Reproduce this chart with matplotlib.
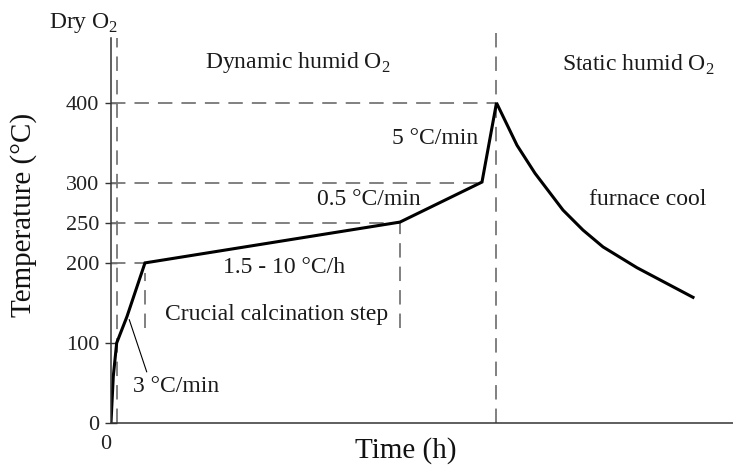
import matplotlib
matplotlib.use('Agg')
import matplotlib.pyplot as plt

plt.rcParams['font.family'] = ['Liberation Serif', 'DejaVu Serif']
plt.rcParams['mathtext.fontset'] = 'custom'
plt.rcParams['mathtext.rm'] = 'Liberation Serif'

# heating / cooling schedule (schematic)
time_h = [0, 0.23, 0.57, 1.6, 3.4, 28.9, 37.1, 38.55, 40.6, 42.4, 45.2, 47.2, 49.2, 52.6, 58.2]
temp_c = [0, 58, 100, 133, 200, 251, 301, 400, 347, 312, 266, 241, 220, 194, 157]

ytick_vals = [0, 100, 200, 250, 300, 400]
xtick_vals = [0]

t_dry_end = 0.6       # end of dry O2 stage
t_peak = 38.55        # end of dynamic humid O2 stage
t_step_start = 3.4
t_step_end = 28.9

fig = plt.figure(figsize=(7.33, 4.68), dpi=100)
ax = fig.add_axes([0.1514, 0.0962, 0.8486, 0.8226])
ax.set_xlim(0, 62.2)
ax.set_ylim(0, 481)

dash = dict(color='#767676', lw=1.3, dashes=(8, 5))

# guide lines from the axis to the set points
ax.plot([0, t_peak], [400, 400], **dash)
ax.plot([0, time_h[6]], [300, 300], **dash)
ax.plot([0, t_step_end], [250, 250], **dash)
ax.plot([0, t_step_start], [200, 200], **dash)

# stage boundaries
ax.plot([t_dry_end, t_dry_end], [0, 481], **dash)
ax.plot([t_peak, t_peak], [0, 487], clip_on=False, **dash)

# crucial step bracket
ax.plot([t_step_start, t_step_start], [119, 188], **dash)
ax.plot([t_step_end, t_step_end], [119, 251], **dash)

ax.plot(time_h, temp_c, color='black', lw=2.2, solid_joinstyle='miter')

# pointer for the first ramp
ax.plot([1.83, 3.57], [129, 64], color='black', lw=0.8)

ax.spines['top'].set_visible(False)
ax.spines['right'].set_visible(False)
for s in ['left', 'bottom']:
    ax.spines[s].set_color('#333333')
    ax.spines[s].set_linewidth(1.1)

ax.set_yticks(ytick_vals)
ax.set_xticks(xtick_vals)
ax.tick_params(axis='y', direction='inout', length=9, width=1.0, color='#333333',
               labelsize=16, pad=4, labelcolor='#222222')
ax.tick_params(axis='x', length=0, labelsize=16, pad=9, labelcolor='#222222')
for lab in ax.get_xticklabels():
    lab.set_horizontalalignment('right')

ax.set_xlabel('Time (h)', fontsize=21, color='#111111')
ax.xaxis.set_label_coords(0.474, -0.036)
ax.set_ylabel('Temperature (°C)', fontsize=21, color='#111111')
ax.yaxis.label.set_verticalalignment('center')
ax.yaxis.set_label_coords(-0.140, 0.54)

fs = 17
tc = '#1a1a1a'
o2 = r'O$_\mathrm{2}$'
ax.text(-2.7, 500, 'Dry ' + o2, fontsize=fs, color=tc, ha='center', va='center', clip_on=False)
ax.text(18.7, 450, 'Dynamic humid ' + o2, fontsize=fs, color=tc, ha='center', va='center')
ax.text(52.7, 448, 'Static humid ' + o2, fontsize=fs, color=tc, ha='center', va='center')
ax.text(32.4, 355, '5 °C/min', fontsize=fs, color=tc, ha='center', va='center')
ax.text(25.8, 279, '0.5 °C/min', fontsize=fs, color=tc, ha='center', va='center')
ax.text(53.7, 279, 'furnace cool', fontsize=fs, color=tc, ha='center', va='center')
ax.text(17.3, 194, '1.5 - 10 °C/h', fontsize=fs, color=tc, ha='center', va='center')
ax.text(16.6, 135, 'Crucial calcination step', fontsize=fs, color=tc, ha='center', va='center')
ax.text(6.5, 45, '3 °C/min', fontsize=fs, color=tc, ha='center', va='center')

fig.savefig('out.png', dpi=100, facecolor='white')
